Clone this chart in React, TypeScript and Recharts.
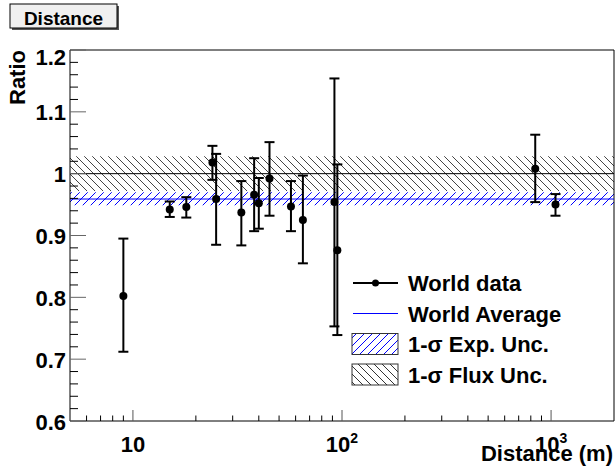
import React from "react";
import {
  ScatterChart,
  Scatter,
  XAxis,
  YAxis,
  ErrorBar,
  ReferenceArea,
  ReferenceLine,
} from "recharts";

// distance (m), measured/expected ratio, lower and upper errors
const distances = [9, 15, 18, 24, 25, 33, 38, 40, 45, 57, 65, 92, 95, 840, 1050];
const ratios = [0.802, 0.942, 0.946, 1.018, 0.959, 0.937, 0.966, 0.952, 0.992, 0.947, 0.925, 0.954, 0.876, 1.008, 0.95];
const errLow = [0.09, 0.012, 0.017, 0.028, 0.074, 0.053, 0.059, 0.041, 0.06, 0.04, 0.07, 0.201, 0.137, 0.054, 0.018];
const errHigh = [0.093, 0.013, 0.016, 0.027, 0.073, 0.051, 0.059, 0.041, 0.059, 0.041, 0.072, 0.2, 0.139, 0.055, 0.017];

// world average and bands
const worldAvg = 0.959;
const expBand = [0.949, 0.97];
const fluxBand = [0.972, 1.028];

const xDomain = [5, 2000];
const yDomain = [0.6, 1.2];
const xMajor = [10, 100, 1000];
const xMinor = [6, 7, 8, 9, 20, 30, 40, 50, 60, 70, 80, 90, 200, 300, 400, 500, 600, 700, 800, 900];
const yMajor = [0.6, 0.7, 0.8, 0.9, 1, 1.1, 1.2];
const yMinor = [0.62, 0.64, 0.66, 0.68, 0.72, 0.74, 0.76, 0.78, 0.82, 0.84, 0.86, 0.88, 0.92, 0.94, 0.96, 0.98, 1.02, 1.04, 1.06, 1.08, 1.12, 1.14, 1.16, 1.18];

const W = 616;
const H = 472;
const MARGIN = { top: 50, right: 2, bottom: 21, left: 8 };
const Y_AXIS_W = 62;
const X_AXIS_H = 30;
const PLOT_LEFT = MARGIN.left + Y_AXIS_W;
const PLOT_BOTTOM = H - MARGIN.bottom - X_AXIS_H;

const FONT = "'Liberation Sans', Arial, Helvetica, sans-serif";
const BLUE = "#0000ff";

const points = distances.map((d, i) => ({
  d,
  ratio: ratios[i],
  err: [errLow[i], errHigh[i]],
}));

const isMajor = (list: number[], v: number) => list.some((m) => Math.abs(m - v) < 1e-6);

function XTick(props: any) {
  const { x, payload } = props;
  const v = payload.value;
  const major = isMajor(xMajor, v);
  const len = major ? 11 : 5.5;
  const exp = Math.round(Math.log10(v));
  return (
    <g>
      <line x1={x} x2={x} y1={PLOT_BOTTOM} y2={PLOT_BOTTOM - len} stroke={major ? "#555" : "#000"} strokeWidth={1} />
      {major && (
        <text x={x} y={PLOT_BOTTOM + 31} textAnchor="middle" fontFamily={FONT} fontWeight="bold" fontSize={22} fill="#000">
          10
          {exp > 1 && (
            <tspan fontSize={14} dy={-9}>
              {exp}
            </tspan>
          )}
        </text>
      )}
    </g>
  );
}

function YTick(props: any) {
  const { y, payload } = props;
  const v = payload.value;
  const major = isMajor(yMajor, v);
  const len = major ? 16 : 8;
  const dy = Math.abs(v - yDomain[1]) < 1e-6 ? 15 : 8.5;
  return (
    <g>
      <line x1={PLOT_LEFT} x2={PLOT_LEFT + len} y1={y} y2={y} stroke={major ? "#666" : "#000"} strokeWidth={1} />
      {major && (
        <text x={PLOT_LEFT - 4} y={y + dy} textAnchor="end" fontFamily={FONT} fontWeight="bold" fontSize={22} fill="#000">
          {String(v)}
        </text>
      )}
    </g>
  );
}

const legendRows = ["World data", "World Average", "1-σ Exp. Unc.", "1-σ Flux Unc."];

// legend drawn in the overlay, top-left corner at (350, 268)
function LegendBox() {
  const rowH = 30.5;
  return (
    <g transform="translate(350 268)">
      {legendRows.map((name, i) => {
        const cy = 15 + i * rowH;
        return (
          <g key={name}>
            {i === 0 && (
              <g>
                <line x1={3} x2={48} y1={cy} y2={cy} stroke="#000" strokeWidth={2} />
                <circle cx={25.5} cy={cy} r={3.5} fill="#000" />
              </g>
            )}
            {i === 1 && <line x1={3} x2={48} y1={cy} y2={cy} stroke={BLUE} strokeWidth={1} />}
            {i >= 2 && (
              <rect
                x={2}
                y={cy - 10.5}
                width={46}
                height={21}
                fill={i === 2 ? "url(#lgExp)" : "url(#lgFlux)"}
                stroke="#333"
                strokeWidth={1}
              />
            )}
            <text x={58} y={cy + 8} fontFamily={FONT} fontWeight="bold" fontSize={22} fill="#000">
              {name}
            </text>
          </g>
        );
      })}
    </g>
  );
}

export default function App() {
  return (
    <div style={{ position: "absolute", left: 0, top: 0, width: W, height: H, background: "#fff" }}>
      <ScatterChart width={W} height={H} margin={MARGIN}>
        <defs>
          <pattern id="hatchExp" patternUnits="userSpaceOnUse" width={8} height={8}>
            <line x1={0} y1={8} x2={8} y2={0} stroke={BLUE} strokeWidth={1} />
          </pattern>
          <pattern id="hatchFlux" patternUnits="userSpaceOnUse" width={8} height={8}>
            <line x1={0} y1={0} x2={8} y2={8} stroke="#444" strokeWidth={1} />
          </pattern>
        </defs>
        <XAxis
          dataKey="d"
          type="number"
          scale="log"
          domain={xDomain}
          allowDataOverflow
          ticks={[...xMinor, ...xMajor].sort((a, b) => a - b)}
          interval={0}
          tick={<XTick />}
          tickLine={false}
          axisLine={false}
          height={X_AXIS_H}
        />
        <YAxis
          dataKey="ratio"
          type="number"
          domain={yDomain}
          allowDataOverflow
          ticks={[...yMinor, ...yMajor].sort((a, b) => a - b)}
          interval={0}
          tick={<YTick />}
          tickLine={false}
          axisLine={false}
          width={Y_AXIS_W}
        />
        <ReferenceArea x1={xDomain[0]} x2={xDomain[1]} y1={fluxBand[0]} y2={fluxBand[1]} fill="url(#hatchFlux)" fillOpacity={1} stroke="none" />
        <ReferenceArea x1={xDomain[0]} x2={xDomain[1]} y1={expBand[0]} y2={expBand[1]} fill="url(#hatchExp)" fillOpacity={1} stroke="none" />
        <ReferenceLine y={1} stroke="#000" strokeWidth={1} />
        <ReferenceLine y={worldAvg} stroke={BLUE} strokeWidth={1} />
        <ReferenceArea x1={xDomain[0]} x2={xDomain[1]} y1={yDomain[0]} y2={yDomain[1]} fill="none" stroke="#000" strokeWidth={1} />
        <Scatter
          data={points}
          isAnimationActive={false}
          shape={(p: any) => <circle cx={p.cx} cy={p.cy} r={4} fill="#000" />}
        >
          <ErrorBar dataKey="err" direction="y" width={5} strokeWidth={2} stroke="#000" isAnimationActive={false} />
        </Scatter>
      </ScatterChart>
      <svg
        width={W}
        height={H}
        style={{ position: "absolute", left: 0, top: 0, pointerEvents: "none" }}
      >
        <defs>
          <pattern id="lgExp" patternUnits="userSpaceOnUse" width={8} height={8}>
            <line x1={0} y1={8} x2={8} y2={0} stroke={BLUE} strokeWidth={1} />
          </pattern>
          <pattern id="lgFlux" patternUnits="userSpaceOnUse" width={8} height={8}>
            <line x1={0} y1={0} x2={8} y2={8} stroke="#333" strokeWidth={1} />
          </pattern>
        </defs>
        <LegendBox />
        <rect x={12} y={6} width={107} height={24} fill="#555" />
        <rect x={10} y={4} width={107} height={24} fill="#f0f0f0" stroke="#000" strokeWidth={1} />
        <text x={63.5} y={25} textAnchor="middle" fontFamily={FONT} fontWeight="bold" fontSize={19} fill="#000">
          Distance
        </text>
        <text
          x={25}
          y={50}
          textAnchor="end"
          transform="rotate(-90 25 50)"
          fontFamily={FONT}
          fontWeight="bold"
          fontSize={22}
          fill="#000"
        >
          Ratio
        </text>
        <text x={613} y={461} textAnchor="end" fontFamily={FONT} fontWeight="bold" fontSize={22} fill="#000">
          Distance (m)
        </text>
      </svg>
    </div>
  );
}
